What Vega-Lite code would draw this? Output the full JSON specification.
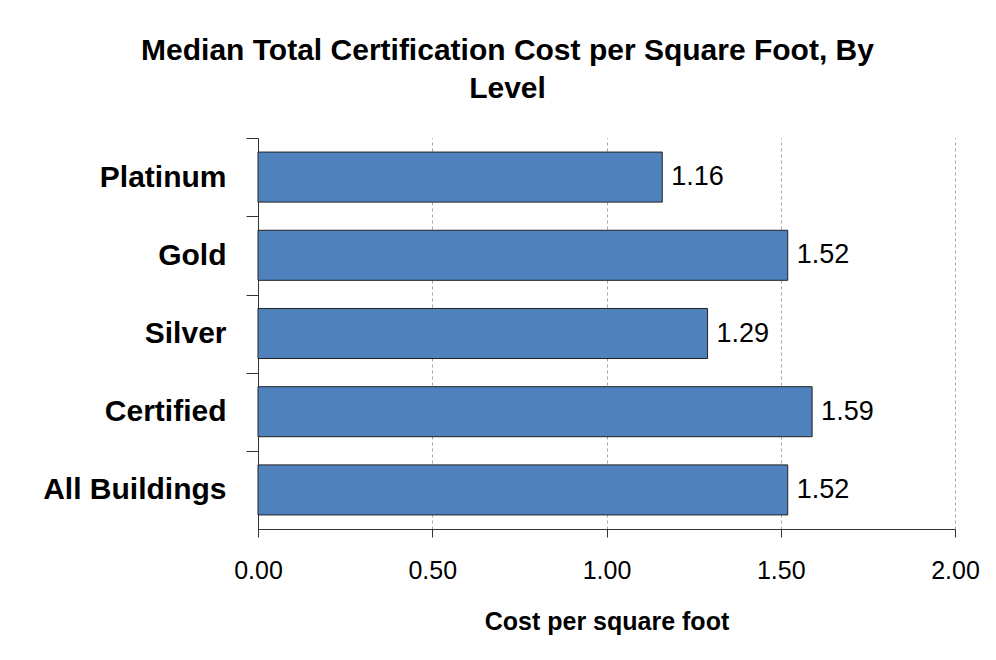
{
  "$schema": "https://vega.github.io/schema/vega-lite/v6.json",
  "width": 697,
  "height": 391,
  "padding": {"left": 18, "top": 35, "right": 20, "bottom": 10},
  "background": "white",
  "title": {
    "text": ["Median Total Certification Cost per Square Foot, By", "Level"],
    "font": "Liberation Sans",
    "fontSize": 30,
    "fontWeight": "bold",
    "color": "black",
    "anchor": "middle",
    "frame": "group",
    "dx": -99,
    "lineHeight": 38,
    "offset": 34
  },
  "data": {
    "values": [
      {"level": "Platinum", "cost": 1.16},
      {"level": "Gold", "cost": 1.52},
      {"level": "Silver", "cost": 1.29},
      {"level": "Certified", "cost": 1.59},
      {"level": "All Buildings", "cost": 1.52}
    ]
  },
  "encoding": {
    "y": {
      "field": "level",
      "type": "nominal",
      "sort": null,
      "scale": {"paddingInner": 0.36, "paddingOuter": 0.18},
      "axis": {
        "title": null,
        "labelFont": "Liberation Sans",
        "labelFontSize": 30,
        "labelFontWeight": "bold",
        "labelColor": "black",
        "labelPadding": 20,
        "labelLimit": 400,
        "tickSize": 12,
        "tickColor": "#333",
        "domainColor": "#333",
        "tickOffset": -39,
        "labelOffset": 39,
        "minExtent": 240,
        "maxExtent": 240,
        "grid": false
      }
    },
    "x": {
      "field": "cost",
      "type": "quantitative",
      "scale": {"domain": [0, 2], "nice": false},
      "axis": {
        "title": "Cost per square foot",
        "titleFont": "Liberation Sans",
        "titleFontSize": 25,
        "titleFontWeight": "bold",
        "titleColor": "black",
        "titlePadding": 26,
        "values": [0, 0.5, 1, 1.5, 2],
        "format": ".2f",
        "labelFont": "Liberation Sans",
        "labelFontSize": 25,
        "labelColor": "black",
        "labelPadding": 21,
        "tickSize": 8,
        "tickColor": "#333",
        "domainColor": "#333",
        "grid": true,
        "gridColor": "#a6a6a6",
        "gridDash": [3, 3],
        "gridWidth": 1
      }
    }
  },
  "layer": [
    {
      "mark": {"type": "bar", "fill": "#4f81bd", "stroke": "#222222", "strokeWidth": 1}
    },
    {
      "mark": {
        "type": "text",
        "align": "left",
        "baseline": "middle",
        "dx": 9,
        "font": "Liberation Sans",
        "fontSize": 27,
        "color": "black"
      },
      "encoding": {
        "text": {"field": "cost", "type": "quantitative", "format": ".2f"}
      }
    }
  ],
  "config": {
    "view": {"stroke": null},
    "axis": {"labelFlush": false}
  }
}
